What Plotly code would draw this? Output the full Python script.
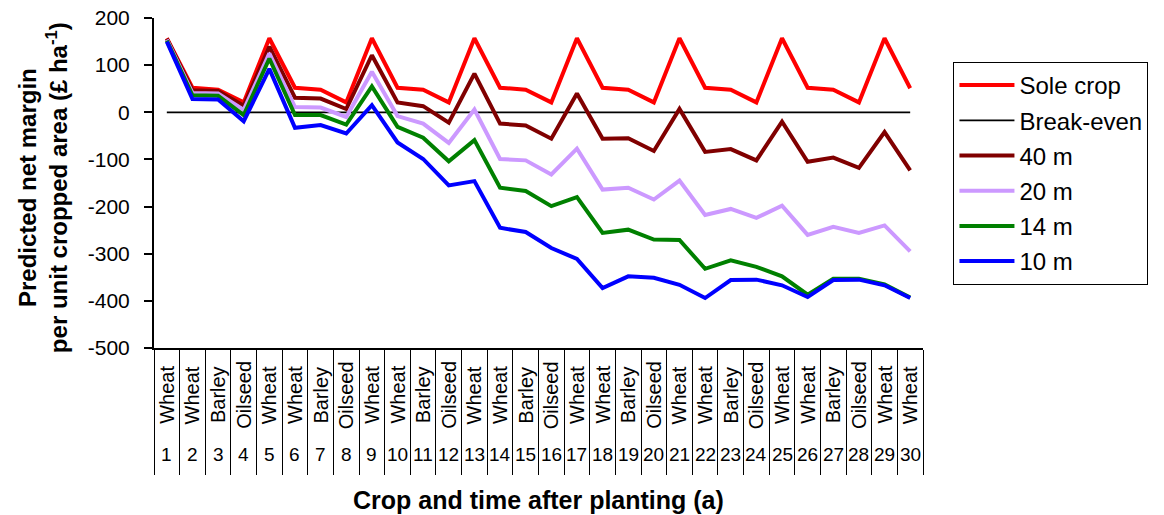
import plotly.graph_objects as go

# Years after planting and the crop grown in each year
years = list(range(1, 31))
crops = [
    "Wheat", "Wheat", "Barley", "Oilseed", "Wheat", "Wheat", "Barley", "Oilseed",
    "Wheat", "Wheat", "Barley", "Oilseed", "Wheat", "Wheat", "Barley", "Oilseed",
    "Wheat", "Wheat", "Barley", "Oilseed", "Wheat", "Wheat", "Barley", "Oilseed",
    "Wheat", "Wheat", "Barley", "Oilseed", "Wheat", "Wheat",
]

# Predicted net margin per unit cropped area (GBP per ha)
sole_crop = [157, 52, 48, 21, 157, 52, 48, 21, 157, 52, 48, 21, 157, 52, 48,
             21, 157, 52, 48, 21, 157, 52, 48, 21, 157, 52, 48, 21, 157, 51]
break_even = [0, 0, 0, 0, 0, 0, 0, 0, 0, 0, 0, 0, 0, 0, 0,
              0, 0, 0, 0, 0, 0, 0, 0, 0, 0, 0, 0, 0, 0, 0]
m40 = [156, 47, 45, 14, 139, 31, 29, 7, 121, 21, 13, -22, 82, -24, -28,
       -56, 40, -56, -55, -82, 7, -84, -78, -102, -20, -105, -96, -118, -42, -123]
m20 = [154, 41, 40, 5, 125, 11, 10, -10, 86, -8, -24, -65, 6, -99, -102,
       -132, -77, -164, -160, -185, -145, -218, -205, -224, -198, -260, -243, -256, -240, -295]
m14 = [152, 36, 35, -6, 114, -6, -6, -26, 55, -31, -54, -104, -59, -160, -167,
       -199, -180, -256, -249, -270, -271, -332, -314, -328, -348, -387, -353, -353, -365, -393]
m10 = [150, 28, 27, -19, 92, -33, -27, -45, 15, -64, -99, -155, -146, -245, -254,
       -288, -311, -373, -348, -351, -366, -394, -356, -355, -367, -392, -356, -355, -367, -394]

y_ticks = [200, 100, 0, -100, -200, -300, -400, -500]
y_tick_labels = ["200", "100", "0", "-100", "-200", "-300", "-400", "-500"]

FONT = "Liberation Sans, Arial, sans-serif"

series = [
    ("Sole crop", sole_crop, "#FF0000", 4),
    ("Break-even", break_even, "#000000", 1.8),
    ("40 m", m40, "#800000", 4),
    ("20 m", m20, "#CC99FF", 4),
    ("14 m", m14, "#008000", 4),
    ("10 m", m10, "#0000FF", 4),
]

fig = go.Figure()
for name, vals, color, width in series:
    fig.add_trace(go.Scatter(
        x=years, y=vals, name=name, mode="lines", legendgroup=name,
        line=dict(color=color, width=width),
    ))

annotations = []
# Two-row category labels under the axis: crop (rotated) and year number
for yr, crop in zip(years, crops):
    annotations.append(dict(
        x=yr, xref="x", y=-0.1424, yref="paper", text=crop, textangle=-90,
        showarrow=False, xanchor="center", yanchor="middle",
        font=dict(family=FONT, size=20, color="#000000"),
    ))
    annotations.append(dict(
        x=yr, xref="x", y=-0.3242, yref="paper", text=str(yr),
        showarrow=False, xanchor="center", yanchor="middle",
        font=dict(family=FONT, size=19, color="#000000"),
    ))

annotations.append(dict(
    x=0.5, xref="paper", y=-0.4606, yref="paper",
    text="<b>Crop and time after planting (a)</b>", showarrow=False,
    xanchor="center", yanchor="middle",
    font=dict(family=FONT, size=25, color="#000000"),
))
annotations.append(dict(
    x=-0.1442, xref="paper", y=0.4848, yref="paper",
    text="<b>Predicted net margin<br>per unit cropped area (£ ha<sup>-1</sup>)</b>",
    textangle=-90, showarrow=False, xanchor="center", yanchor="middle",
    font=dict(family=FONT, size=24, color="#000000"),
))

fig.update_layout(
    width=1164, height=515,
    margin=dict(l=154, r=240.5, t=18, b=167, autoexpand=False),
    paper_bgcolor="white", plot_bgcolor="white",
    font=dict(family=FONT, size=21, color="#000000"),
    showlegend=True,
    legend=dict(
        x=1.0396, xanchor="left", y=0.8667, yanchor="top",
        bordercolor="#000000", borderwidth=1, bgcolor="white",
        font=dict(family=FONT, size=24, color="#000000"),
        tracegroupgap=1, itemwidth=55,
    ),
    annotations=annotations,
)

fig.update_xaxes(
    range=[0.5, 30.5], showgrid=False, zeroline=False,
    showline=True, linecolor="#000000", linewidth=1.5,
    tickmode="array", tickvals=[v + 0.5 for v in [0] + years],
    ticks="outside", ticklen=125, tickwidth=1, tickcolor="#000000",
    showticklabels=False,
)
fig.update_yaxes(
    range=[-500, 200], showgrid=False, zeroline=False,
    showline=True, linecolor="#000000", linewidth=2,
    tickmode="array", tickvals=y_ticks, ticktext=y_tick_labels,
    ticks="outside", ticklen=8, tickwidth=2, tickcolor="#000000",
    tickfont=dict(family=FONT, size=21, color="#000000"),
    ticklabelstandoff=10,
)

fig.write_html("out.html")
